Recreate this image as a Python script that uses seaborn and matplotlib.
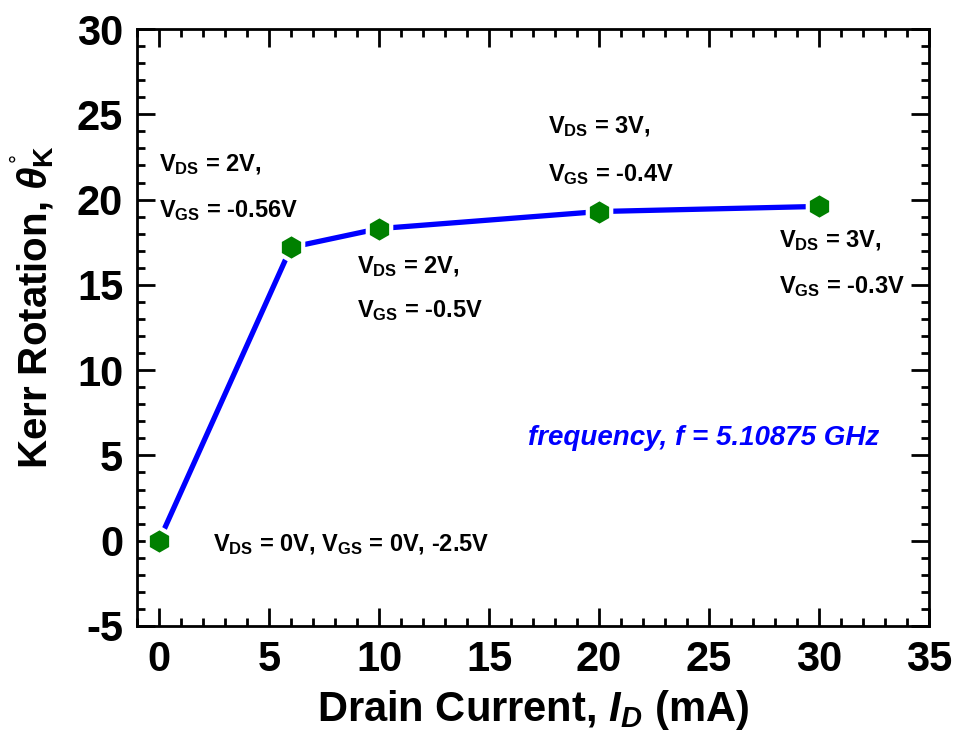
import matplotlib
matplotlib.use("Agg")
import matplotlib.pyplot as plt
import seaborn as sns
import pandas as pd
from matplotlib.ticker import MultipleLocator

# Data
drain_current = [0, 6, 10, 20, 30]
kerr_rotation = [0.0, 17.2, 18.3, 19.3, 19.6]
annotations = [
    r"V$_{\mathbf{DS}}$ = 2V,", r"V$_{\mathbf{GS}}$ = -0.56V",
    r"V$_{\mathbf{DS}}$ = 2V,", r"V$_{\mathbf{GS}}$ = -0.5V",
    r"V$_{\mathbf{DS}}$ = 3V,", r"V$_{\mathbf{GS}}$ = -0.4V",
    r"V$_{\mathbf{DS}}$ = 3V,", r"V$_{\mathbf{GS}}$ = -0.3V",
    r"V$_{\mathbf{DS}}$ = 0V, V$_{\mathbf{GS}}$ = 0V, -2.5V",
]
annot_x = [0.0, 0.0, 9.0, 9.0, 17.7, 17.7, 28.2, 28.2, 2.45]
annot_y = [21.65, 19.0, 15.7, 13.1, 23.9, 21.06, 17.2, 14.5, -0.6]
freq_label = "frequency, f = 5.10875 GHz"

df = pd.DataFrame({"I": drain_current, "K": kerr_rotation})

sns.set_style("ticks")
plt.rcParams["font.family"] = ["Liberation Sans", "DejaVu Sans"]
plt.rcParams["font.weight"] = "bold"
plt.rcParams["axes.unicode_minus"] = False
plt.rcParams["text.color"] = "black"
plt.rcParams["axes.labelcolor"] = "black"
plt.rcParams["xtick.color"] = "black"
plt.rcParams["ytick.color"] = "black"
plt.rcParams["mathtext.fontset"] = "custom"
plt.rcParams["mathtext.rm"] = "Liberation Sans"
plt.rcParams["mathtext.it"] = "Liberation Sans:italic"
plt.rcParams["mathtext.bf"] = "Liberation Sans:bold"
plt.rcParams["mathtext.bfit"] = "Liberation Sans:italic:bold"

fig = plt.figure(figsize=(9.55, 7.35), dpi=100)
ax = fig.add_axes([0.1435, 0.1483, 0.9728 - 0.1435, 0.9605 - 0.1483])

sns.lineplot(data=df, x="I", y="K", ax=ax, color="#0000ff", linewidth=3.8, zorder=2)
sns.scatterplot(data=df, x="I", y="K", ax=ax, marker="h", color="#008000",
                s=380, edgecolor="white", linewidth=3, zorder=3)

ax.set_xlim(-1, 35)
ax.set_ylim(-5, 30)
ax.xaxis.set_major_locator(MultipleLocator(5))
ax.xaxis.set_minor_locator(MultipleLocator(1))
ax.yaxis.set_major_locator(MultipleLocator(5))
ax.yaxis.set_minor_locator(MultipleLocator(1))
ax.tick_params(which="both", direction="in", top=True, right=True, width=2,
               color="black", labelcolor="black")
ax.tick_params(which="major", length=13, labelsize=30, pad=10)
ax.tick_params(which="minor", length=6)
for lab in ax.get_xticklabels() + ax.get_yticklabels():
    lab.set_fontweight("bold")
for sp in ax.spines.values():
    sp.set_visible(True)
    sp.set_linewidth(2)
    sp.set_color("black")

ax.set_xlabel(r"Drain Current, $\mathbfit{I}_{\mathbfit{D}}$ (mA)", fontsize=30,
              fontweight="bold", labelpad=6, color="black")
ax.set_ylabel(r"Kerr Rotation, $\theta_{\mathrm{K}}$", fontsize=29,
              fontweight="bold", color="black")
ax.yaxis.set_label_coords(-0.102, 0.534)
# degree ring above theta
fig.text(19 / 955, 1 - 157 / 735, "°", rotation=90, fontsize=16,
         ha="center", va="center", color="black", fontweight="normal")

for t, x, y in zip(annotations, annot_x, annot_y):
    ax.text(x, y, t, fontsize=17, fontweight="bold", ha="left", va="baseline", color="black")

ax.text(16.75, 5.6, freq_label, fontsize=20, fontweight="bold", style="italic",
        color="#0000ff", ha="left", va="baseline")

fig.savefig("out.png", dpi=100)
